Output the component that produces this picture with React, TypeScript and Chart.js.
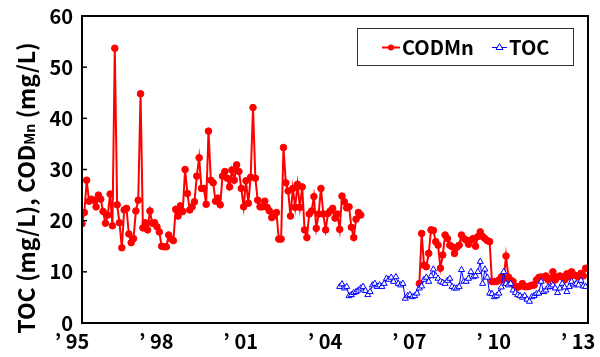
import React, { useEffect, useRef } from "react";
import { Chart, registerables } from "chart.js";

Chart.register(...registerables);

// ---- data ----
const xTickValues = [1995, 1998, 2001, 2004, 2007, 2010, 2013];
const xTickLabels = ["’ 95", "’ 98", "’ 01", "’ 04", "’ 07", "’ 10", "’ 13"];
const yTickValues = [0, 10, 20, 30, 40, 50, 60];

// CODMn monthly, Jan 1995 – Dec 2004
const codmnStartA = { year: 1995, month: 0 };
const codmnA = [
  19.4, 21.6, 27.9, 23.8, 24.2, 24.0, 22.7, 25.0, 24.2, 21.8, 19.5, 21.1, 25.2, 19.0,
  53.7,
  23.1, 19.6, 14.7, 22.1, 22.4, 17.4, 15.7, 16.5, 21.9, 24.0, 44.8, 18.6, 19.6, 18.2,
  21.9, 19.5, 19.6, 18.8, 17.8, 15.0, 14.9, 14.9, 17.2, 16.4, 16.1, 22.2, 20.9, 22.9,
  21.8, 30.0, 25.3, 22.1, 22.7, 23.7, 28.7, 32.3, 26.3, 26.3, 23.2, 37.5, 27.9, 27.4,
  23.8, 24.4, 23.1, 28.7, 29.6, 28.3, 26.6, 29.9, 27.9, 30.9, 29.6, 26.3, 22.7, 27.8,
  23.4, 28.5, 42.1, 28.3, 24.0, 22.7,
  22.7, 23.8, 22.6, 21.9, 20.6, 20.9, 21.6, 16.4, 16.4, 34.3, 27.4, 25.8, 20.9, 26.3,
  22.6, 27.1, 22.6, 26.6, 18.2, 16.7, 21.3, 21.9, 24.7, 18.5, 21.3, 26.3, 21.3, 18.2,
  21.4, 21.9, 22.4, 20.5, 21.3, 18.3, 24.8, 23.7, 22.5, 22.7, 18.7, 16.7, 20.3, 21.6,
  21.1,
];

// CODMn monthly, Jan 2007 – Dec 2012
const codmnStartB = { year: 2007, month: 0 };
const codmnB = [
  7.7, 17.5, 11.3, 11.0, 13.6, 18.2, 18.1, 15.9, 15.2, 10.7, 13.3, 17.2, 16.5, 15.2,
  14.9, 13.6, 14.8, 15.2, 17.2, 16.5, 16.2, 15.4, 16.2, 16.5, 15.0, 16.9, 17.8, 16.9,
  16.5, 16.1, 15.9, 8.1, 8.1, 8.1, 8.4, 9.0, 8.4, 13.1, 9.0, 8.4, 8.1, 7.1, 7.0, 7.2,
  7.7, 7.1, 7.1, 7.2, 7.4, 7.4, 8.4, 8.9, 9.0, 8.9, 9.2, 8.4, 8.7, 10.0, 8.4, 9.0,
  9.2, 9.0, 8.4, 9.6, 9.0, 10.0, 9.4, 9.2, 9.0, 9.7, 9.2, 10.7,
];

// TOC monthly, Mar 2004 – Dec 2012
const tocStart = { year: 2004, month: 2 };
const toc = [
  7.1, 7.6, 6.8, 7.1, 5.3, 5.5, 5.9, 6.1, 6.4, 6.8, 7.1, 6.3, 5.5, 6.1, 7.4, 7.7,
  7.1, 7.4, 7.1, 7.7, 8.7, 8.5, 8.9, 8.1, 9.0, 7.7, 7.4, 7.7, 4.8, 5.3, 5.5, 5.1,
  5.3, 5.8, 6.8, 7.2, 8.5, 8.9, 8.1, 9.2, 10.5, 9.2, 8.7, 8.1, 7.9, 7.7, 8.3, 8.7,
  7.1, 6.8, 6.8, 7.1, 10.4, 8.1, 8.1, 8.7, 10.0, 9.0, 9.2, 10.0, 12.0, 7.7, 10.5, 8.9,
  5.8, 5.7, 5.1, 5.3, 5.8, 7.0, 10.0, 7.7, 7.4, 7.7, 6.4, 5.9, 5.5, 5.3, 5.0, 5.3,
  4.6, 4.2, 5.1, 5.3, 5.7, 5.8, 8.1, 6.1, 6.4, 7.0, 7.1, 7.4, 6.8, 5.9, 6.8, 7.7,
  7.0, 6.1, 7.1, 8.1, 7.4, 7.7, 7.4, 8.3, 7.2, 7.1,
];

const legendLabels = ["CODMn", "TOC"];
const RED = "#ff0000";
const BLUE = "#0000ff";
const FONT = "'Noto Sans CJK JP', 'Liberation Sans', sans-serif";

function monthly(start: { year: number; month: number }, values: number[]) {
  return values.map((v, i) => ({ x: start.year + (start.month + i) / 12, y: v }));
}

const decorPlugin = {
  id: "decor",
  afterDraw(chart: any) {
    const ctx: CanvasRenderingContext2D = chart.ctx;
    const ca = chart.chartArea;
    const ys = chart.scales.y;
    ctx.save();
    // frame
    ctx.strokeStyle = "#000";
    ctx.lineWidth = 2;
    ctx.strokeRect(ca.left, ca.top, ca.right - ca.left, ca.bottom - ca.top);
    // inward y ticks
    ctx.lineWidth = 1.5;
    yTickValues.forEach((v) => {
      const y = ys.getPixelForValue(v);
      ctx.beginPath();
      ctx.moveTo(ca.left, y);
      ctx.lineTo(ca.left + 5, y);
      ctx.stroke();
    });

    // y-axis title with subscript
    const mainFont = `bold 23px ${FONT}`;
    const subFont = `bold 14px ${FONT}`;
    const p1 = "TOC (mg/L), COD";
    const p2 = "Mn";
    const p3 = " (mg/L)";
    ctx.font = mainFont;
    const w1 = ctx.measureText(p1).width;
    const w3 = ctx.measureText(p3).width;
    ctx.font = subFont;
    const w2 = ctx.measureText(p2).width;
    const total = w1 + w2 + w3;
    ctx.translate(35, 188);
    ctx.rotate(-Math.PI / 2);
    ctx.fillStyle = "#000";
    ctx.textBaseline = "alphabetic";
    ctx.textAlign = "left";
    let x0 = -total / 2;
    ctx.font = mainFont;
    ctx.fillText(p1, x0, 0);
    x0 += w1;
    ctx.font = subFont;
    ctx.fillText(p2, x0, 0);
    x0 += w2;
    ctx.font = mainFont;
    ctx.fillText(p3, x0, 0);
    ctx.restore();

    // legend
    ctx.save();
    const bx = 357, by = 28, bw = 216, bh = 37;
    ctx.fillStyle = "#fff";
    ctx.fillRect(bx, by, bw, bh);
    ctx.strokeStyle = "#333";
    ctx.lineWidth = 1;
    ctx.strokeRect(bx + 0.5, by + 0.5, bw, bh);
    const cy = by + bh / 2 + 1;
    // red item
    ctx.strokeStyle = RED;
    ctx.lineWidth = 2;
    ctx.beginPath();
    ctx.moveTo(382, cy);
    ctx.lineTo(400, cy);
    ctx.stroke();
    ctx.fillStyle = RED;
    ctx.beginPath();
    ctx.arc(391, cy, 3, 0, Math.PI * 2);
    ctx.fill();
    // blue item
    ctx.strokeStyle = BLUE;
    ctx.lineWidth = 1;
    ctx.beginPath();
    ctx.moveTo(492, cy);
    ctx.lineTo(507, cy);
    ctx.stroke();
    ctx.fillStyle = "#fff";
    ctx.beginPath();
    ctx.moveTo(499.5, cy - 4);
    ctx.lineTo(503, cy + 2);
    ctx.lineTo(496, cy + 2);
    ctx.closePath();
    ctx.fill();
    ctx.stroke();
    // texts
    ctx.fillStyle = "#000";
    ctx.font = `bold 20px ${FONT}`;
    ctx.textBaseline = "middle";
    ctx.textAlign = "left";
    ctx.fillText(legendLabels[0], 402, cy);
    ctx.fillText(legendLabels[1], 509, cy);
    ctx.restore();
  },
};

export default function App() {
  const ref = useRef<HTMLCanvasElement | null>(null);

  useEffect(() => {
    if (!ref.current) return;
    const redData: any[] = [
      ...monthly(codmnStartA, codmnA),
      { x: 2006, y: null },
      ...monthly(codmnStartB, codmnB),
    ];
    const chart = new Chart(ref.current, {
      type: "line",
      data: {
        datasets: [
          {
            label: legendLabels[0],
            data: redData,
            borderColor: RED,
            backgroundColor: RED,
            borderWidth: 2,
            pointRadius: 3.3,
            pointStyle: "circle",
            pointBackgroundColor: RED,
            pointBorderColor: RED,
            pointBorderWidth: 1,
            tension: 0,
            spanGaps: false,
            order: 2,
          },
          {
            label: legendLabels[1],
            data: monthly(tocStart, toc),
            borderColor: BLUE,
            backgroundColor: "#fff",
            borderWidth: 1,
            pointRadius: 3.5,
            pointStyle: "triangle",
            pointBackgroundColor: "#fff",
            pointBorderColor: BLUE,
            pointBorderWidth: 1,
            tension: 0,
            order: 1,
          },
        ],
      },
      options: {
        animation: false,
        responsive: false,
        maintainAspectRatio: false,
        layout: { padding: { left: 0, right: 12, top: 16, bottom: 0 } },
        plugins: {
          legend: { display: false },
          tooltip: { enabled: false },
        },
        scales: {
          x: {
            type: "linear",
            min: 1995,
            max: 2013,
            grid: { display: false, drawTicks: false },
            border: { display: false },
            afterBuildTicks: (s: any) => {
              s.ticks = xTickValues.map((v) => ({ value: v }));
            },
            afterFit: (s: any) => {
              s.height = 34;
              s.paddingLeft = 0;
              s.paddingRight = 0;
            },
            ticks: {
              autoSkip: false,
              maxRotation: 0,
              minRotation: 0,
              padding: 6,
              labelOffset: -10,
              color: "#000",
              font: { family: FONT, size: 20, weight: "bold" },
              callback: (_v: any, i: number) => xTickLabels[i],
            },
          },
          y: {
            min: 0,
            max: 60,
            grid: { display: false, drawTicks: false },
            border: { display: false },
            afterBuildTicks: (s: any) => {
              s.ticks = yTickValues.map((v) => ({ value: v }));
            },
            afterFit: (s: any) => {
              s.width = 82;
              s.paddingTop = 0;
              s.paddingBottom = 0;
            },
            ticks: {
              padding: 9,
              color: "#000",
              font: { family: FONT, size: 20, weight: "bold" },
            },
          },
        },
      },
      plugins: [decorPlugin],
    } as any);
    return () => chart.destroy();
  }, []);

  return (
    <div style={{ position: "absolute", left: 0, top: 0, width: 600, height: 357, background: "#fff" }}>
      <canvas ref={ref} width={600} height={357} style={{ width: 600, height: 357, display: "block" }} />
    </div>
  );
}
